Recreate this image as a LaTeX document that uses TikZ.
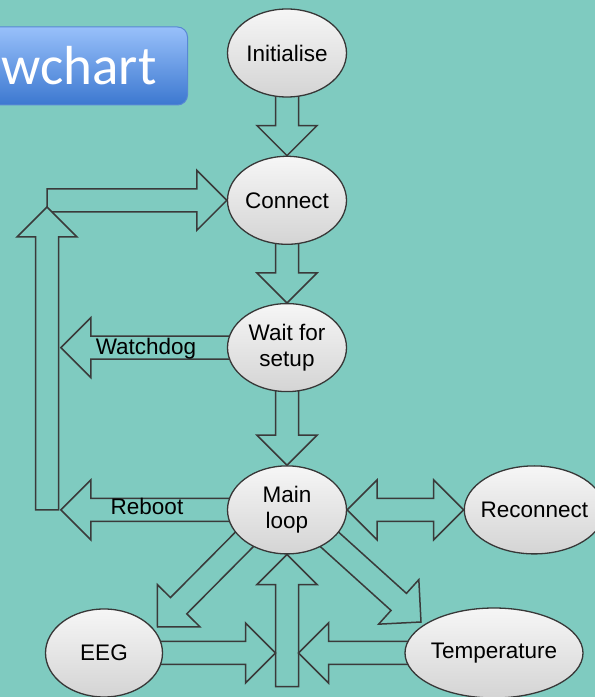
\documentclass[tikz,border=0pt]{standalone}
\usepackage{fontspec}
\setmainfont{Liberation Sans}
\newfontfamily\titlefont{Carlito}
\usepackage{xcolor}
\usepackage{tikz}
\usetikzlibrary{shapes.geometric, positioning, calc}

\definecolor{slideteal}{RGB}{127,203,192}
\definecolor{arrowline}{RGB}{58,58,58}
\definecolor{nodeline}{RGB}{55,55,55}
\definecolor{blobtop}{RGB}{246,246,246}
\definecolor{blobbottom}{RGB}{212,212,212}
\definecolor{titletop}{RGB}{152,192,250}
\definecolor{titlebottom}{RGB}{60,120,208}
\definecolor{titleedge}{RGB}{88,136,212}

\pgfdeclarelayer{backdrop}
\pgfdeclarelayer{arrowlayer}
\pgfsetlayers{backdrop,arrowlayer,main}

% block arrow sizes
\newcommand{\blkshaft}{11.5pt}
\newcommand{\blkhead}{30pt}
\newcommand{\blklen}{30pt}

% outlined block arrow from #1 to the tip #2
\newcommand{\blockarrow}[2]{%
  \coordinate (ba-h) at ($(#2)!\blklen!(#1)$);
  \draw[blockarrow] ($(#1)!\blkshaft!90:(#2)$) -- ($(ba-h)!\blkshaft!90:(#2)$)
    -- ($(ba-h)!\blkhead!90:(#2)$) -- (#2)
    -- ($(ba-h)!\blkhead!-90:(#2)$) -- ($(ba-h)!\blkshaft!-90:(#2)$)
    -- ($(#1)!\blkshaft!-90:(#2)$) -- cycle;}

% outlined block arrow with a head at both ends
\newcommand{\blockdouble}[2]{%
  \coordinate (bd-a) at ($(#1)!\blklen!(#2)$);
  \coordinate (bd-b) at ($(#2)!\blklen!(#1)$);
  \draw[blockarrow] (#1) -- ($(bd-a)!\blkhead!90:(#2)$) -- ($(bd-a)!\blkshaft!90:(#2)$)
    -- ($(bd-b)!\blkshaft!90:(#2)$) -- ($(bd-b)!\blkhead!90:(#2)$) -- (#2)
    -- ($(bd-b)!\blkhead!-90:(#2)$) -- ($(bd-b)!\blkshaft!-90:(#2)$)
    -- ($(bd-a)!\blkshaft!-90:(#2)$) -- ($(bd-a)!\blkhead!-90:(#2)$) -- cycle;}

\begin{document}
\begin{tikzpicture}[
  x=1pt, y=1pt,
  blob/.style={ellipse, draw=nodeline, line width=1.3pt, top color=blobtop, bottom color=blobbottom,
    inner xsep=-10pt, inner ysep=0pt, minimum width=119pt, minimum height=88pt,
    align=center, font=\fontsize{22.5}{26}\selectfont},
  blockarrow/.style={draw=arrowline, line width=1.5pt, fill=slideteal, line join=miter},
  tag/.style={font=\fontsize{22.5}{26}\selectfont, inner sep=0pt, anchor=base},
  titlebox/.style={draw=titleedge, line width=1pt, rounded corners=10pt, top color=titletop,
    bottom color=titlebottom, text=white, inner xsep=31pt, minimum height=78pt,
    font=\titlefont\fontsize{55}{60}\selectfont}
]
  \useasboundingbox (0,0) rectangle (595,697);
  \clip (0,0) rectangle (595,697);
  \begin{pgfonlayer}{backdrop}
    \fill[slideteal] (0,0) rectangle (595,697);
  \end{pgfonlayer}

  % Title
  \node[titlebox, anchor=east] (title) at (188,631) {wchart};

  % States
  \node[blob] (init) at (287,644) {Initialise};
  \node[blob, below=58pt of init] (connect) {Connect};
  \node[blob, below=58pt of connect] (wait) {Wait for\\setup};
  \node[blob, below=73pt of wait] (main) {Main\\loop};
  \node[blob, minimum width=140pt, right=116.5pt of main] (reconnect) {Reconnect};
  \node[blob, minimum width=117pt] (eeg) at (104,44) {EEG};
  \node[blob, minimum width=178pt, minimum height=90pt] (temp) at (494,44) {Temperature};

  % Free ends of the arrows
  \coordinate (wdend) at ($(wait.west)+(-166,0)$);
  \coordinate (rbend) at ($(main.west)+(-166,0)$);
  \coordinate (loopfoot) at ($(main)+(-240,0)$);
  \coordinate (looptop) at (47,490);
  \coordinate (loopcorner) at (loopfoot |- connect);
  \coordinate (upfoot) at ($(main.south)+(0,-132)$);
  \coordinate (eegtip) at (157.5,70);
  \coordinate (temptip) at (421,75);
  \coordinate (joinL) at ($(eeg -| upfoot)+(-11.5,0)$);
  \coordinate (joinR) at ($(temp -| upfoot)+(11.5,0)$);
  \coordinate (eegfrom) at ($(main.215)!-15pt!(eegtip)$);
  \coordinate (tempfrom) at ($(main.-35)!-15pt!(temptip)$);

  % Arrows
  \begin{pgfonlayer}{arrowlayer}
    \blockarrow{init}{connect.north}
    \blockarrow{connect}{wait.north}
    \blockarrow{wait}{main.north}
    \blockarrow{wait}{wdend}
    \blockarrow{main}{rbend}
    \blockarrow{loopcorner}{connect.west}
    \blockarrow{loopfoot}{looptop}
    \blockdouble{main.east}{reconnect.west}
    \blockarrow{eegfrom}{eegtip}
    \blockarrow{tempfrom}{temptip}
    \blockarrow{upfoot}{main.south}
    \blockarrow{eeg}{joinL}
    \blockarrow{temp}{joinR}
  \end{pgfonlayer}

  % Arrow labels
  \node[tag] (wdtag) at (146,342) {Watchdog};
  \node[tag] (rbtag) at (147,182) {Reboot};
\end{tikzpicture}
\end{document}
